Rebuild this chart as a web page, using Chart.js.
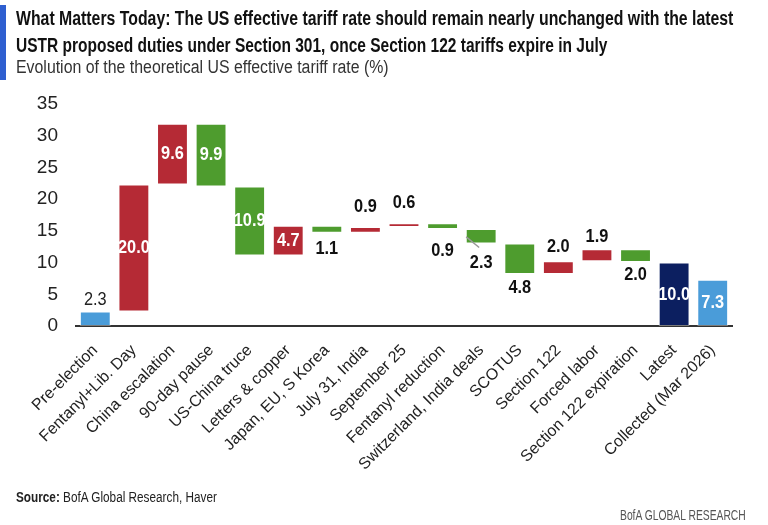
<!DOCTYPE html>
<html><head><meta charset="utf-8">
<script src="https://cdn.jsdelivr.net/npm/chart.js@4"></script>
<style>
body{margin:0;width:768px;height:525px;background:#fff;overflow:hidden;position:relative;font-family:"Liberation Sans",Arial,sans-serif;color:#111}
#accent{position:absolute;left:0;top:5px;width:6px;height:75px;background:#2f5fd0}
.fit{position:absolute;left:16px;white-space:nowrap;transform-origin:0 0;display:inline-block}
#t1,#t2{font-weight:bold;font-size:20px;line-height:22px;color:#111}
#t1{top:7px}
#t2{top:34px}
#sub{top:56px;font-size:18px;line-height:22px;color:#333}
#src{top:489px;font-size:14px;line-height:16px;color:#222}
#brand{top:507px;font-size:14px;line-height:16px;color:#555}
#wrap{position:absolute;left:0;top:0;width:768px;height:525px}
</style></head>
<body>
<div id="accent"></div>
<div id="wrap"><canvas id="c" width="768" height="525"></canvas></div>
<div id="t1" class="fit" data-w="717">What Matters Today: The US effective tariff rate should remain nearly unchanged with the latest</div>
<div id="t2" class="fit" data-w="591">USTR proposed duties under Section 301, once Section 122 tariffs expire in July</div>
<div id="sub" class="fit" data-w="373">Evolution of the theoretical US effective tariff rate (%)</div>
<div id="src" class="fit" data-w="201"><b>Source:</b> BofA Global Research, Haver</div>
<div id="brand" class="fit" data-w="126" data-x="620">BofA GLOBAL RESEARCH</div>
<script>
const categories = ['Pre-election','Fentanyl+Lib. Day','China escalation','90-day pause','US-China truce','Letters & copper','Japan, EU, S Korea','July 31, India','September 25','Fentanyl reduction','Switzerland, India deals','SCOTUS','Section 122','Forced labor','Section 122 expiration','Latest','Collected (Mar 2026)'];
const barStart = [0, 2.3, 22.3, 31.9, 22.0, 11.1, 15.8, 14.7, 15.6, 16.2, 15.3, 13.0, 8.2, 10.2, 12.1, 0, 0];
const barEnd   = [2.3, 22.3, 31.9, 22.0, 11.1, 15.8, 14.7, 15.6, 16.2, 15.3, 13.0, 8.2, 10.2, 12.1, 10.1, 10.0, 7.3];
const valueLabels = ['2.3','20.0','9.6','9.9','10.9','4.7','1.1','0.9','0.6','0.9','2.3','4.8','2.0','1.9','2.0','10.0','7.3'];
const barKinds = ['level','up','up','down','down','up','down','up','up','down','down','down','up','up','down','latest','collected'];
const yTicks = [0,5,10,15,20,25,30,35];

// fit header/footer text widths
document.querySelectorAll('.fit').forEach(el=>{
  const w = el.scrollWidth, target = +el.dataset.w;
  el.style.transform = 'scaleX('+(target/w)+')';
  if (el.dataset.x) el.style.left = el.dataset.x+'px';
});

const kindColors = {level:'#4a9cd9', up:'#b52a35', down:'#4e9c2e', latest:'#0c1f60', collected:'#4a9cd9'};
const placement = ['above','inside','inside','inside','inside','inside','below','above','above','below','below','below','above','above','below','inside','inside'];
const offsets = [12,0,0,0,0,0,16,20,20,22,19,14,15,12,13,0,0];
const FONT = '"Liberation Sans",Arial,sans-serif';

const labelPlugin = {
  id:'wfLabels',
  afterDatasetsDraw(chart){
    const ctx = chart.ctx;
    const meta = chart.getDatasetMeta(0);
    meta.data.forEach((el,i)=>{
      const top = Math.min(el.y, el.base), bot = Math.max(el.y, el.base);
      let y, color = '#111', weight='bold';
      if (placement[i]==='inside'){ y=(top+bot)/2; color='#fff'; }
      else if (placement[i]==='above'){ y=top-offsets[i]; }
      else { y=bot+offsets[i]; }
      if (i===0){ weight='normal'; color='#222'; }
      if (categories[i]==='Switzerland, India deals'){
        ctx.save();
        ctx.strokeStyle='#999'; ctx.lineWidth=1.5;
        ctx.beginPath(); ctx.moveTo(el.x-15, top+8); ctx.lineTo(el.x-2, bot+4); ctx.stroke();
        ctx.restore();
      }
      ctx.save();
      ctx.translate(el.x, y);
      ctx.scale(0.86, 1);
      ctx.textAlign='center';
      ctx.textBaseline='middle';
      ctx.font = weight+' 19px '+FONT;
      ctx.fillStyle=color;
      ctx.fillText(valueLabels[i], 0, 0);
      ctx.restore();
    });
  }
};

new Chart(document.getElementById('c'), {
  type:'bar',
  data:{
    labels: categories,
    datasets:[{
      data: barStart.map((s,i)=>[s, barEnd[i]]),
      backgroundColor: barKinds.map(k=>kindColors[k]),
      borderColor: 'rgba(255,255,255,0.35)',
      borderWidth: 1,
      borderSkipped: false,
      barPercentage: 0.8,
      categoryPercentage: 1.0
    }]
  },
  options:{
    responsive:false,
    animation:false,
    layout:{padding:{left:0, right:36, top:104, bottom:20}},
    plugins:{legend:{display:false}, tooltip:{enabled:false}, title:{display:false}},
    scales:{
      x:{
        grid:{display:false, drawTicks:false},
        border:{display:true, color:'#333', width:2},
        ticks:{color:'#222', font:{family:FONT, size:16}, maxRotation:45, minRotation:45, autoSkip:false, padding:15},
        afterFit(s){ s.height = 179; }
      },
      y:{
        min:0, max:35,
        afterBuildTicks(s){ s.ticks = yTicks.map(v=>({value:v})); },
        grid:{display:false, drawTicks:false},
        border:{display:false},
        ticks:{color:'#222', font:{family:FONT, size:19}, padding:18},
        afterFit(s){ s.width = 76; }
      }
    }
  },
  plugins:[labelPlugin]
});
</script>
</body></html>
